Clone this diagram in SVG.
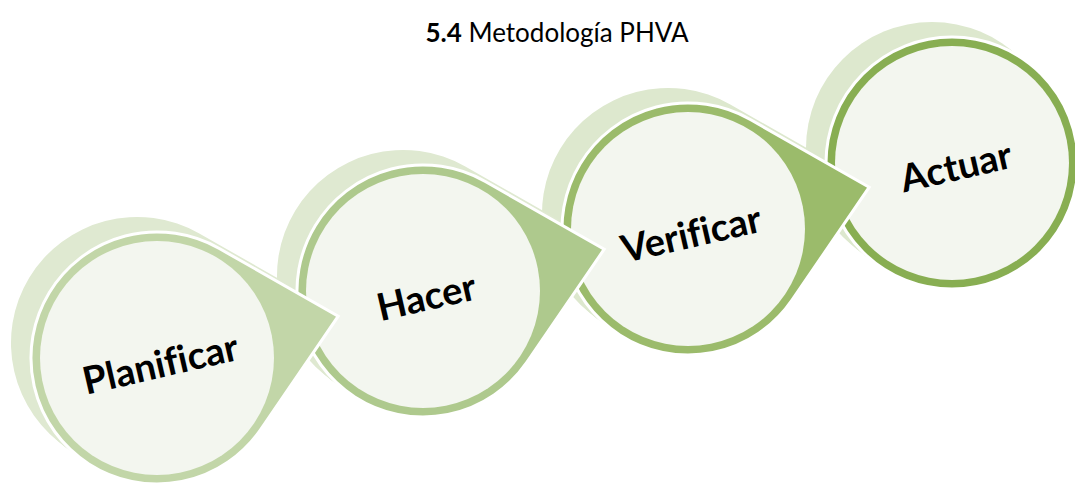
<svg xmlns="http://www.w3.org/2000/svg" xmlns:xlink="http://www.w3.org/1999/xlink" width="1075" height="487" viewBox="0 0 1075 487">
  <style>
    .title { font-family: Lato, "Liberation Sans", sans-serif; font-size: 26px; fill: #000; }
    .lbl { font-family: Lato, "Liberation Sans", sans-serif; font-weight: bold; font-size: 38px; fill: #000; text-anchor: middle; dominant-baseline: central; font-variant-ligatures: none; font-feature-settings: "liga" 0; }
    .main { stroke: #ffffff; stroke-width: 3; stroke-linejoin: miter; }
    .inner { fill: #f3f6ef; }
  </style>
  <defs>
    <path id="drop" d="M 62.3 -109.5 L 181.2 -41.8 L 104 71.1 A 126 126 0 1 1 62.3 -109.5 Z"/>
  </defs>
  <rect width="1075" height="487" fill="#ffffff"/>
  <text class="title" x="557" y="42" text-anchor="middle"><tspan font-weight="bold">5.4</tspan> Metodología PHVA</text>

  <g id="extrusions">
    <g fill="#dde8ce">
      <circle r="126" cx="945" cy="158"/>
      <circle r="126" cx="938" cy="153"/>
      <circle r="126" cx="932" cy="148"/>
      <use xlink:href="#drop" transform="translate(681 224)"/>
      <use xlink:href="#drop" transform="translate(674 219)"/>
      <use xlink:href="#drop" transform="translate(668 214)"/>
    </g>
    <g fill="#dfe9d1">
      <use xlink:href="#drop" transform="translate(416 286)"/>
      <use xlink:href="#drop" transform="translate(409 281)"/>
      <use xlink:href="#drop" transform="translate(403 276)"/>
      <use xlink:href="#drop" transform="translate(150 353)"/>
      <use xlink:href="#drop" transform="translate(143 348)"/>
      <use xlink:href="#drop" transform="translate(137 343)"/>
    </g>
  </g>

  <g id="actuar" transform="translate(952 163)">
    <circle r="126" class="main" fill="#88ae52"/>
    <circle class="inner" r="117"/>
    <text class="lbl" x="3" y="3" transform="rotate(-13)">Actuar</text>
  </g>

  <g id="verificar" transform="translate(688 229)">
    <use xlink:href="#drop" class="main" fill="#9bbb6b"/>
    <circle class="inner" r="117"/>
    <text class="lbl" x="2" y="4" transform="rotate(-13)">Verificar</text>
  </g>

  <g id="hacer" transform="translate(423 291)">
    <use xlink:href="#drop" class="main" fill="#aec98d"/>
    <circle class="inner" r="117"/>
    <text class="lbl" x="2" y="5" transform="rotate(-13)">Hacer</text>
  </g>

  <g id="planificar" transform="translate(157 358)">
    <use xlink:href="#drop" class="main" fill="#c2d6a8"/>
    <circle class="inner" r="117"/>
    <text class="lbl" x="2" y="5" transform="rotate(-13)">Planificar</text>
  </g>

  <g id="connectors"/>
</svg>
